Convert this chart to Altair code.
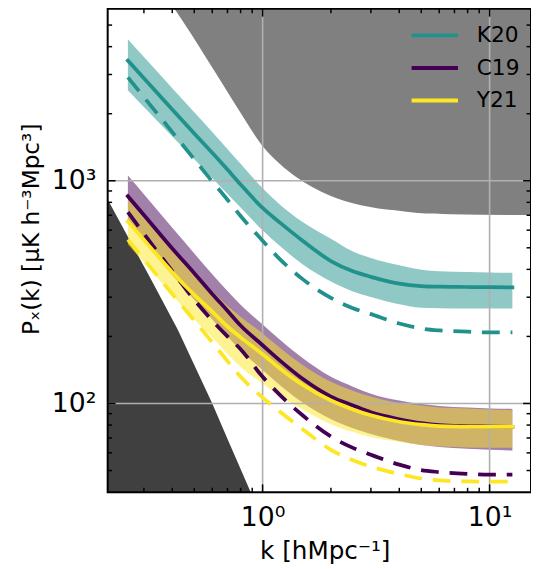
import altair as alt
import pandas as pd

W, H = 429, 490
FONT = "DejaVu Sans"

# ---------------- data ----------------
k = [0.255, 0.3, 0.4, 0.5, 0.6, 0.7, 0.8, 1.0, 1.2, 1.5, 2.0, 2.5, 3.0, 4.0, 5.0, 6.0, 8.0, 10.0, 12.6]

k20_mid = [3465, 2884, 2091, 1629, 1335, 1122, 963, 755, 645, 538, 436, 392, 370.4, 345.4, 336.7, 334.4, 333.4, 332.6, 332.3]
k20_hi = [4314, 3591, 2604, 2028, 1654, 1390, 1193, 924.5, 777, 653.5, 549.5, 481, 450, 417, 398.5, 392.5, 389.7, 387.7, 385.7]
k20_lo = [2551, 2145, 1579, 1249, 1029, 874, 757.7, 599.3, 506.3, 421.4, 352.6, 318.4, 301, 278.8, 269, 267.6, 267.1, 267.1, 267.1]
k20_dash = [2913, 2373, 1654, 1249, 993, 822, 694.8, 538.3, 441.2, 361.6, 297.9, 267.6, 251.8, 228.5, 217.1, 212.8, 210, 208.5, 208.5]

c19_mid = [851.9, 701.9, 496.2, 384.4, 310.3, 260.9, 223.9, 182.6, 155.0, 129.1, 107.4, 97.98, 91.24, 84.95, 81.55, 79.90, 79.09, 78.69, 78.52]
c19_hi = [1055.6, 869.5, 614.8, 471.6, 380.6, 320.0, 277.4, 226.2, 192.1, 159.9, 131.7, 118.9, 110.7, 103.1, 99.49, 97.48, 96.00, 95.03, 94.55]
c19_lo = [647, 532.9, 376.7, 291.9, 238.1, 200.1, 173.5, 141.5, 120.2, 101.0, 84.95, 77.49, 72.89, 67.86, 65.15, 63.84, 62.55, 61.91, 61.48]
c19_dash = [723.7, 578.3, 392.4, 291.9, 235.7, 200.1, 175.3, 131.7, 108.5, 88.48, 71.05, 63.19, 58.83, 53.13, 50.22, 49.21, 48.32, 47.97, 47.97]

y21_mid = [656.8, 542.8, 388.4, 307.2, 258.3, 221.6, 198.1, 166.5, 142.9, 121.4, 103.1, 94.06, 88.48, 82.80, 80.31, 79.09, 78.69, 78.52, 78.52]
y21_hi = [826.2, 680.7, 486.2, 380.6, 320.0, 274.6, 245.4, 206.4, 177.1, 148.9, 125.2, 114.2, 107.4, 100.5, 97.98, 96.00, 95.03, 94.06, 93.40]
y21_lo = [516.8, 430.1, 307.2, 238.1, 198.1, 166.5, 145.9, 122.6, 107.4, 94.06, 80.72, 74.37, 70.69, 67.18, 65.15, 64.16, 63.51, 63.19, 63.19]
y21_dash = [543.9, 443.6, 310.3, 235.6, 188.3, 155.0, 131.7, 106.3, 91.24, 76.70, 61.91, 55.63, 52.05, 48.22, 46.05, 45.12, 44.67, 44.53, 44.53]

# excluded regions (lower-left dark, upper-right mid gray)
low_k = [0.20, 0.2098, 0.3236, 0.4227, 0.6002, 0.6975, 0.8806, 0.95]
low_p = [886, 809, 358, 214.9, 100, 69.97, 40.6, 34]
up_k = [0.3701, 0.4090, 0.4830, 0.5708, 0.6747, 0.7967, 1.0070, 1.1890, 1.4057, 1.6614,
        1.9614, 2.3184, 2.7410, 3.2359, 3.8240, 4.830, 6.747, 15.03, 18.98]
up_p = [6898, 5919, 4587, 3493, 2663, 2028, 1419, 1193, 1040, 933.9,
        860.7, 809.6, 774.9, 751.5, 736.3, 716.3, 706.9, 701.9, 701.9]

names = ["K20", "C19", "Y21"]
colors = ["#21918c", "#440154", "#fde725"]
mids = [k20_mid, c19_mid, y21_mid]
his = [k20_hi, c19_hi, y21_hi]
los = [k20_lo, c19_lo, y21_lo]
dashes = [k20_dash, c19_dash, y21_dash]

x_major = [1, 10]
x_minor = [0.3, 0.4, 0.5, 0.6, 0.7, 0.8, 0.9, 2, 3, 4, 5, 6, 7, 8, 9]
y_major = [100, 1000]
y_minor = [50, 60, 70, 80, 90, 200, 300, 400, 500, 600, 700, 800, 900, 2000, 3000, 4000, 5000]

# ---------------- scales / axes ----------------
xscale = alt.Scale(type="log", domain=[0.2077, 15.22], nice=False)
yscale = alt.Scale(type="log", domain=[39.93, 5920], nice=False)
cscale = alt.Scale(domain=names, range=colors)

xaxis = alt.Axis(values=x_major, labelExpr="datum.value < 5 ? '10⁰' : '10¹'",
                 grid=False, ticks=False, domain=False, labelFontSize=27,
                 labelColor="black", labelPadding=13, labelFlush=False, labelOverlap=False,
                 title="k [hMpc⁻¹]", titleFontSize=25, titleFontWeight="normal",
                 titleColor="black", titleX=220, titleY=67, titleBaseline="alphabetic")
yaxis = alt.Axis(values=y_major, labelExpr="datum.value < 500 ? '10²' : '10³'",
                 grid=False, ticks=False, domain=False, labelFontSize=27,
                 labelColor="black", labelPadding=12, labelFlush=False, labelOverlap=False,
                 title="Pₓ(k) [μK h⁻³Mpc³]", titleFontSize=23.5, titleFontWeight="normal",
                 titleColor="black", titleX=-70, titleY=223, titleAngle=270,
                 titleBaseline="alphabetic")

def X(f="k"):
    return alt.X(f"{f}:Q", scale=xscale, axis=xaxis)

def Y(f="P"):
    return alt.Y(f"{f}:Q", scale=yscale, axis=yaxis, stack=None)

legend = alt.Legend(title=None, orient="none", legendX=306, legendY=10.5,
                    symbolType="stroke", symbolSize=2209, symbolStrokeWidth=4,
                    labelFontSize=22, labelOffset=17, clipHeight=33, rowPadding=0,
                    padding=0, labelColor="black")

layers = []

# excluded regions
layers.append(alt.Chart(pd.DataFrame({"k": low_k, "P": low_p})).mark_area(
    color="#404040", clip=True).encode(x=X(), y=Y(), y2=alt.value(H)))
layers.append(alt.Chart(pd.DataFrame({"k": up_k, "P": up_p})).mark_area(
    color="#808080", clip=True, interpolate="monotone").encode(x=X(), y=Y(), y2=alt.value(0)))

# bands
for n, c, lo, hi in zip(names, colors, los, his):
    df = pd.DataFrame({"k": k, "lo": lo, "hi": hi})
    layers.append(alt.Chart(df).mark_area(color=c, opacity=0.5, clip=True,
                                          interpolate="monotone").encode(
        x=X(), y=Y("lo"), y2="hi:Q"))

# grid
layers.append(alt.Chart(pd.DataFrame({"k": x_major})).mark_rule(
    color="#b0b0b0", strokeWidth=1.6).encode(x=X()))
layers.append(alt.Chart(pd.DataFrame({"P": y_major})).mark_rule(
    color="#b0b0b0", strokeWidth=1.6).encode(y=Y()))

# dashed
for n, c, d in zip(names, colors, dashes):
    df = pd.DataFrame({"k": k, "P": d})
    layers.append(alt.Chart(df).mark_line(color=c, strokeWidth=3.8, strokeDash=[18, 11],
                                          clip=True, interpolate="monotone").encode(x=X(), y=Y()))

# solid
for n, m in zip(names, mids):
    df = pd.DataFrame({"k": k, "P": m, "series": n})
    layers.append(alt.Chart(df).mark_line(strokeWidth=3.8, strokeCap="square", clip=True,
                                          interpolate="monotone").encode(
        x=X(), y=Y(), stroke=alt.Stroke("series:N", scale=cscale, legend=legend)))

# ticks (inward, all four sides)
def ticks(vals, length, side):
    ch = alt.Chart(pd.DataFrame({"k": vals, "P": vals})).mark_rule(color="black", strokeWidth=1.5)
    if side == "bottom":
        return ch.encode(x=X(), y=alt.value(H), y2=alt.value(H - length))
    if side == "top":
        return ch.encode(x=X(), y=alt.value(0), y2=alt.value(length))
    if side == "left":
        return ch.encode(y=Y(), x=alt.value(0), x2=alt.value(length))
    return ch.encode(y=Y(), x=alt.value(W), x2=alt.value(W - length))

for side in ["bottom", "top"]:
    layers.append(ticks(x_major, 8, side))
    layers.append(ticks(x_minor, 4.5, side))
for side in ["left", "right"]:
    layers.append(ticks(y_major, 8, side))
    layers.append(ticks(y_minor, 4.5, side))

# frame
layers.append(alt.Chart(pd.DataFrame({"a": [0]})).mark_rect(
    filled=False, stroke="black", strokeWidth=2).encode(
    x=alt.value(0), x2=alt.value(W), y=alt.value(0), y2=alt.value(H)))

chart = alt.layer(*layers).properties(
    width=W, height=H,
    padding={"left": 101, "top": -3, "right": 0, "bottom": 74},
    autosize=alt.AutoSizeParams(type="none"),
    background="white",
).configure_view(stroke=None).configure(font=FONT)

chart.save("out.html", embed_options={"renderer": "svg", "actions": False})
